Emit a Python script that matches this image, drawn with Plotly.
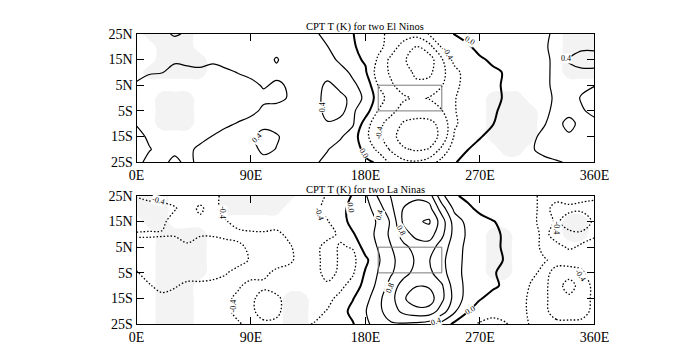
import plotly.graph_objects as go

# ---------------- data ----------------
lons = list(range(0, 361, 10))                      # 0E .. 360E every 10 deg
lats = [25, 20, 15, 10, 5, 0, -5, -10, -15, -20, -25]  # row order of the grids

# CPT temperature anomaly (K), two El Ninos (rows 25N -> 25S)
elnino = [
    [0.5, 0.5, 0.5, 0.35, 0.45, 0.5, 0.5, 0.5, 0.55, 0.55, 0.5, 0.5, 0.5, 0.5, 0.45, 0.3, 0.15, 0.02, -0.25, -0.35, -0.45, -0.55, -0.65, -0.38, -0.2, 0.02, 0.12, 0.15, 0.2, 0.25, 0.28, 0.3, 0.35, 0.45, 0.5, 0.5, 0.5],
    [0.5, 0.55, 0.55, 0.6, 0.6, 0.55, 0.55, 0.55, 0.55, 0.55, 0.55, 0.5, 0.5, 0.5, 0.5, 0.41, 0.2, 0.05, -0.15, -0.3, -0.55, -1.0, -1.22, -0.95, -0.35, -0.15, -0.05, 0.1, 0.2, 0.25, 0.3, 0.3, 0.35, 0.5, 0.5, 0.45, 0.45],
    [0.45, 0.5, 0.5, 0.45, 0.5, 0.48, 0.45, 0.5, 0.5, 0.5, 0.5, 0.38, 0.5, 0.55, 0.55, 0.5, 0.35, 0.1, -0.05, -0.45, -0.9, -1.15, -1.4, -1.4, -0.85, -0.25, -0.1, -0.04, 0.05, 0.15, 0.2, 0.25, 0.35, 0.45, 0.38, 0.3, 0.3],
    [0.45, 0.42, 0.41, 0.3, 0.3, 0.35, 0.3, 0.35, 0.41, 0.45, 0.45, 0.45, 0.5, 0.55, 0.55, 0.5, 0.5, 0.35, 0.05, -0.6, -0.85, -1.0, -1.3, -1.3, -0.9, -0.55, -0.2, -0.12, -0.05, 0.02, 0.15, 0.25, 0.35, 0.45, 0.45, 0.45, 0.45],
    [0.38, 0.3, 0.25, 0.25, 0.25, 0.25, 0.25, 0.25, 0.3, 0.35, 0.42, 0.37, 0.42, 0.5, 0.5, 0.35, 0.45, 0.45, 0.3, -0.42, -0.75, -0.95, -1.1, -1.05, -0.82, -0.5, -0.25, -0.12, -0.05, 0.03, 0.12, 0.2, 0.35, 0.45, 0.5, 0.45, 0.41],
    [0.3, 0.25, 0.2, 0.2, 0.2, 0.2, 0.2, 0.2, 0.25, 0.3, 0.35, 0.33, 0.42, 0.55, 0.5, 0.3, 0.35, 0.45, 0.38, -0.2, -0.6, -0.75, -0.85, -0.78, -0.6, -0.42, -0.25, -0.15, -0.05, 0.02, 0.12, 0.2, 0.36, 0.42, 0.5, 0.38, 0.3],
    [0.3, 0.25, 0.2, 0.2, 0.2, 0.2, 0.22, 0.25, 0.28, 0.33, 0.45, 0.5, 0.55, 0.55, 0.5, 0.32, 0.37, 0.45, 0.2, -0.42, -0.7, -0.95, -1.05, -1.0, -0.82, -0.42, -0.25, -0.15, -0.03, 0.05, 0.15, 0.25, 0.35, 0.45, 0.5, 0.42, 0.35],
    [0.38, 0.3, 0.25, 0.25, 0.25, 0.28, 0.3, 0.35, 0.42, 0.5, 0.48, 0.5, 0.55, 0.55, 0.5, 0.42, 0.43, 0.45, -0.2, -0.7, -0.95, -1.25, -1.3, -1.3, -1.1, -0.45, -0.25, -0.1, -0.01, 0.08, 0.2, 0.3, 0.38, 0.5, 0.3, 0.5, 0.45],
    [0.5, 0.35, 0.25, 0.25, 0.3, 0.33, 0.41, 0.5, 0.5, 0.45, 0.3, 0.37, 0.5, 0.55, 0.5, 0.5, 0.45, 0.2, -0.3, -0.7, -1.05, -1.4, -1.45, -1.4, -1.1, -0.35, -0.15, -0.02, 0.1, 0.2, 0.25, 0.35, 0.45, 0.5, 0.45, 0.5, 0.5],
    [0.55, 0.42, 0.3, 0.3, 0.35, 0.45, 0.5, 0.55, 0.55, 0.5, 0.33, 0.41, 0.5, 0.55, 0.5, 0.42, 0.25, 0.15, -0.08, -0.5, -0.85, -1.15, -1.25, -1.18, -0.7, -0.15, -0.01, 0.1, 0.2, 0.25, 0.3, 0.38, 0.45, 0.5, 0.5, 0.5, 0.5],
    [0.5, 0.3, 0.3, 0.5, 0.3, 0.5, 0.5, 0.5, 0.55, 0.55, 0.5, 0.5, 0.5, 0.5, 0.45, 0.3, 0.2, 0.12, 0.05, -0.03, -0.5, -0.7, -0.75, -0.6, -0.25, -0.02, 0.1, 0.2, 0.25, 0.28, 0.3, 0.33, 0.35, 0.38, 0.42, 0.5, 0.5],
]

# CPT temperature anomaly (K), two La Ninas (rows 25N -> 25S)
lanina = [
    [-0.38, -0.3, -0.3, -0.3, -0.3, -0.3, -0.3, -0.5, -0.5, -0.45, -0.5, -0.5, -0.55, -0.5, -0.5, -0.38, -0.2, 0.03, 0.35, 0.85, 1.22, 1.45, 1.5, 1.4, 0.5, 0.05, -0.1, -0.2, -0.25, -0.3, -0.3, -0.3, -0.5, -0.5, -0.5, -0.45, -0.45],
    [-0.55, -0.55, -0.5, -0.42, -0.3, -0.44, -0.3, -0.5, -0.55, -0.55, -0.55, -0.55, -0.6, -0.55, -0.5, -0.3, -0.12, 0.12, 0.25, 0.6, 1.1, 1.62, 1.8, 1.75, 1.0, 0.3, 0.1, -0.1, -0.2, -0.25, -0.3, -0.3, -0.5, -0.3, -0.35, -0.35, -0.3],
    [-0.55, -0.5, -0.45, -0.3, -0.3, -0.35, -0.3, -0.38, -0.5, -0.55, -0.55, -0.5, -0.55, -0.6, -0.55, -0.42, -0.2, 0.15, 0.2, 0.45, 0.85, 1.7, 1.95, 2.05, 1.4, 0.6, 0.3, 0.15, 0.02, -0.1, -0.25, -0.3, -0.52, -0.36, -0.5, -0.55, -0.35],
    [-0.37, -0.37, -0.38, -0.38, -0.36, -0.38, -0.38, -0.37, -0.33, -0.35, -0.36, -0.35, -0.45, -0.6, -0.55, -0.5, -0.35, -0.05, 0.3, 0.45, 0.9, 1.4, 1.75, 1.8, 1.3, 0.65, 0.35, 0.2, 0.08, -0.05, -0.2, -0.3, -0.45, -0.33, -0.35, -0.35, -0.37],
    [-0.5, -0.5, -0.5, -0.5, -0.42, -0.5, -0.5, -0.45, -0.45, -0.35, -0.3, -0.3, -0.37, -0.5, -0.5, -0.28, -0.43, -0.38, 0.2, 0.42, 0.78, 1.1, 1.35, 1.4, 1.0, 0.6, 0.3, 0.18, 0.08, -0.05, -0.2, -0.3, -0.45, -0.45, -0.38, -0.42, -0.48],
    [-0.5, -0.55, -0.55, -0.55, -0.5, -0.5, -0.5, -0.5, -0.5, -0.37, -0.3, -0.3, -0.35, -0.5, -0.5, -0.28, -0.43, -0.5, -0.1, 0.35, 0.7, 1.0, 1.25, 1.22, 0.9, 0.55, 0.3, 0.18, 0.08, -0.02, -0.2, -0.3, -0.38, -0.45, -0.5, -0.45, -0.45],
    [-0.38, -0.5, -0.55, -0.55, -0.5, -0.5, -0.48, -0.42, -0.3, -0.3, -0.35, -0.45, -0.5, -0.5, -0.5, -0.3, -0.45, -0.45, 0.05, 0.42, 0.75, 1.05, 1.35, 1.3, 0.95, 0.55, 0.28, 0.15, 0.03, -0.08, -0.2, -0.35, -0.45, -0.35, -0.3, -0.38, -0.48],
    [-0.3, -0.38, -0.48, -0.42, -0.35, -0.35, -0.33, -0.3, -0.37, -0.48, -0.45, -0.5, -0.5, -0.5, -0.5, -0.45, -0.5, -0.25, 0.15, 0.5, 0.95, 1.4, 1.58, 1.55, 1.25, 0.6, 0.3, 0.15, 0.05, -0.05, -0.25, -0.42, -0.45, -0.3, -0.5, -0.3, -0.45],
    [-0.3, -0.32, -0.33, -0.32, -0.3, -0.3, -0.3, -0.35, -0.45, -0.45, -0.3, -0.35, -0.5, -0.5, -0.5, -0.5, -0.3, -0.02, 0.25, 0.7, 1.05, 1.55, 1.85, 1.8, 1.3, 0.65, 0.25, 0.02, -0.1, -0.15, -0.3, -0.45, -0.45, -0.3, -0.35, -0.3, -0.45],
    [-0.3, -0.3, -0.3, -0.3, -0.3, -0.3, -0.32, -0.36, -0.45, -0.45, -0.3, -0.35, -0.5, -0.5, -0.5, -0.38, -0.15, 0.1, 0.38, 0.7, 1.0, 1.3, 1.45, 1.45, 1.0, 0.45, 0.02, -0.15, -0.3, -0.3, -0.3, -0.45, -0.45, -0.32, -0.3, -0.33, -0.45],
    [-0.3, -0.3, -0.3, -0.3, -0.3, -0.3, -0.3, -0.32, -0.38, -0.45, -0.45, -0.45, -0.5, -0.45, -0.38, -0.3, -0.2, -0.03, 0.3, 0.6, 0.75, 0.75, 0.7, 0.6, 0.25, -0.1, -0.3, -0.45, -0.5, -0.42, -0.3, -0.42, -0.45, -0.45, -0.45, -0.45, -0.45],
]

# significance (stippled) areas, 1 = significant; same grid, rows 25N -> 25S
signif_elnino = [
    "0111100000000000000000000000000000111",
    "0011100000000000000000000000000000111",
    "0011110000000000000000000000000000111",
    "0111110000000000000000000000000000111",
    "0000000000000000000000000000000000000",
    "0011100000000000000000000000111000000",
    "0011100000000000000000000000111100000",
    "0011100000000000000000000000111100000",
    "0000000000000000000000000000111100000",
    "0000000000000000000000000000011000000",
    "0000000000000000000000000000000000000",
]
signif_lanina = [
    "1110000111111000000000000000000000000",
    "1110000111110000000000000000000000000",
    "0110000000000000000000000000000000110",
    "0011110000000000000000000000110000110",
    "0011110000000000000000000000110000000",
    "0011110000000000000000000000110000000",
    "0011110000000000000000000000110000000",
    "0011100000000000000000000000000000000",
    "0011100000001100000000000000000000000",
    "0011100000001100000000000000000000000",
    "0011100000001100000000000000000000000",
]

x_ticks = [0, 90, 180, 270, 360]
x_labels = ["0E", "90E", "180E", "270E", "360E"]
y_ticks = [25, 15, 5, -5, -15, -25]
y_labels = ["25N", "15N", "5N", "5S", "15S", "25S"]

nino_box_lon = [190, 240]   # Nino-3.4 region
nino_box_lat = [-5, 5]

titles = ["CPT T (K) for two El Ninos", "CPT T (K) for two La Ninas"]

# contour labels: (text, lon, lat, angle)
labels_elnino = [
    ("0.4", 146, -3.5, -90), ("0.4", 95, -15.5, -45), ("0.0", 179, -21.5, 60),
    ("-0.4", 191, -13.5, -80), ("0.0", 262, 22.5, 30), ("-0.4", 245, 17.5, 60),
    ("0.4", 338, 15.5, 0),
]
labels_lanina = [
    ("-0.4", 17, 23, 15), ("-0.4", 67.5, 18.5, 90), ("-0.4", 76, -18, -90),
    ("-0.4", 143.5, 18, 70), ("0.0", 168.5, 20.5, 80), ("0.4", 190.5, 17.5, -75),
    ("0.8", 208, 11.5, 60), ("0.8", 199, -11, -70), ("0.4", 235.5, -24, -20),
    ("0.0", 262, -19.5, -30), ("-0.4", 330, 12.5, 90), ("-0.4", 349, -6, 55),
]

# ---------------- figure ----------------
W, H = 680, 361
x_dom = [133 / W, 607 / W]
y_doms = [[1 - 162 / H, 1 - 28 / H], [1 - 331 / H, 1 - 197 / H]]
title_y = [1 - 21 / H, 1 - 190.5 / H]
FONT = "Liberation Serif"

fig = go.Figure()
panels = [(elnino, signif_elnino, labels_elnino), (lanina, signif_lanina, labels_lanina)]

for i, (grid, sig, labs) in enumerate(panels):
    xa = "x" if i == 0 else "x2"
    ya = "y" if i == 0 else "y2"
    y = lats[::-1]
    z = grid[::-1]
    zs = [[int(c) for c in row] for row in sig][::-1]
    # stippled significance shading (very light)
    fig.add_trace(go.Contour(x=lons, y=y, z=zs, xaxis=xa, yaxis=ya, showscale=False,
                             hoverinfo="skip", autocontour=False, zmin=0, zmax=1,
                             contours=dict(start=0.5, end=0.5, size=1, coloring="fill"),
                             colorscale=[[0, "rgba(255,255,255,0)"], [0.49, "rgba(255,255,255,0)"],
                                         [0.51, "rgba(150,150,150,0.11)"], [1, "rgba(150,150,150,0.11)"]],
                             line=dict(width=0, smoothing=1.0)))
    common = dict(x=lons, y=y, z=z, xaxis=xa, yaxis=ya, showscale=False,
                  hoverinfo="skip", autocontour=False)
    # negative levels, dotted
    fig.add_trace(go.Contour(**common,
                             contours=dict(start=-2.0, end=-0.4, size=0.4, coloring="none"),
                             line=dict(color="black", width=1.3, dash="1.5px,2px", smoothing=1.0)))
    # zero line, thick
    fig.add_trace(go.Contour(**common,
                             contours=dict(start=0, end=0, size=1, coloring="none"),
                             line=dict(color="black", width=2.0, smoothing=1.0)))
    # positive levels, thin solid
    fig.add_trace(go.Contour(**common,
                             contours=dict(start=0.4, end=2.4, size=0.4, coloring="none"),
                             line=dict(color="black", width=1.2, smoothing=1.0)))
    # Nino-3.4 box
    bx = [nino_box_lon[0], nino_box_lon[1], nino_box_lon[1], nino_box_lon[0], nino_box_lon[0]]
    by = [nino_box_lat[0], nino_box_lat[0], nino_box_lat[1], nino_box_lat[1], nino_box_lat[0]]
    fig.add_trace(go.Scatter(x=bx, y=by, xaxis=xa, yaxis=ya, mode="lines",
                             line=dict(color="#7a7a7a", width=1), hoverinfo="skip"))
    # contour labels
    for text, lo, la, ang in labs:
        fig.add_annotation(x=lo, y=la, xref=xa, yref=ya, text=text, showarrow=False,
                           textangle=ang, bgcolor="white", borderpad=0,
                           font=dict(family=FONT, size=8, color="black"))
    # panel title
    fig.add_annotation(x=(x_dom[0] + x_dom[1]) / 2, y=title_y[i], xref="paper", yref="paper",
                       text=titles[i], showarrow=False, yanchor="middle",
                       font=dict(family=FONT, size=10.5, color="black"))

axis_common = dict(showline=True, linecolor="black", linewidth=1, mirror="allticks",
                   ticks="inside", ticklen=7, tickwidth=1, tickcolor="black",
                   showgrid=False, zeroline=False,
                   tickfont=dict(family=FONT, size=14, color="black"))

for i in range(2):
    sx = "" if i == 0 else "2"
    fig.update_layout(**{
        f"xaxis{sx}": dict(axis_common, domain=x_dom, range=[0, 360], tickvals=x_ticks,
                           ticktext=x_labels, anchor=f"y{sx}"),
        f"yaxis{sx}": dict(axis_common, domain=y_doms[i], range=[-25, 25], tickvals=y_ticks,
                           ticktext=y_labels, anchor=f"x{sx}"),
    })

fig.update_layout(width=W, height=H, margin=dict(l=0, r=0, t=0, b=0),
                  paper_bgcolor="white", plot_bgcolor="white", showlegend=False)

fig.write_html("out.html")
